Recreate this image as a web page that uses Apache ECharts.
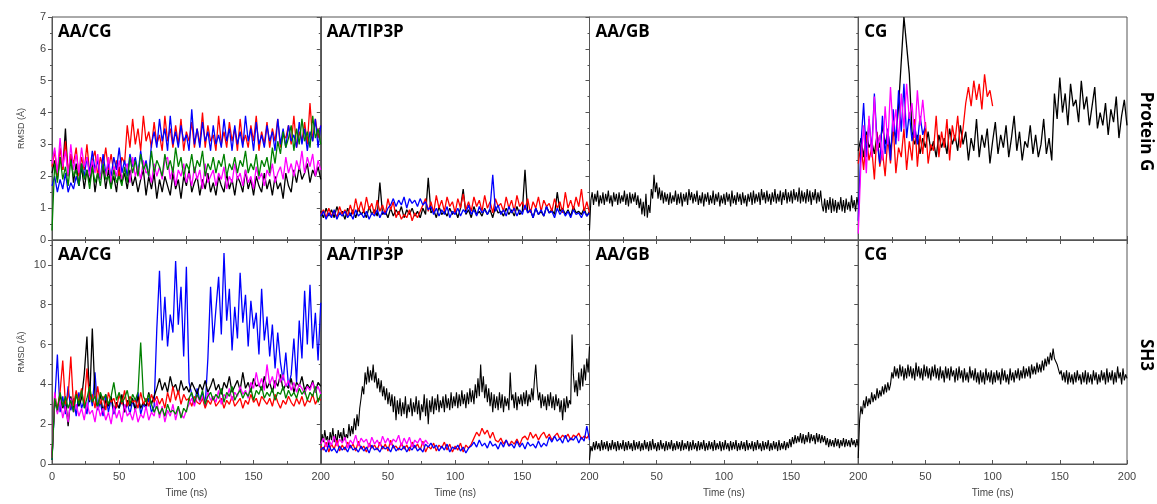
<!DOCTYPE html>
<html>
<head>
<meta charset="utf-8">
<script src="https://cdn.jsdelivr.net/npm/echarts@6/dist/echarts.min.js"></script>
<style>
  html, body { margin: 0; padding: 0; background: #fff; }
  #chart { width: 1157px; height: 504px; }
</style>
</head>
<body>
<div id="chart"></div>
<script>
// RMSD traces (Å). Most are sampled every 2 ns from t = 0, the single-trace runs every 1 ns.
const DT2 = 2;
const DT1 = 1;

// ---- Protein G ----
const pgAaCgBlack = [2.1,2.5,1.9,2.6,2.2,3.5,2.0,2.7,1.8,2.4,1.7,
  2.3,1.6,2.2,1.8,2.4,1.5,2.1,1.9,2.3,1.6, 2.2,1.7,2.0,1.5,2.3,1.8,2.1,1.6,2.2,1.7,
  2.0,1.5,1.9,2.2,1.4,2.0,1.6,2.1,1.3,1.9, 1.5,2.0,1.7,1.4,2.1,1.6,1.9,1.3,2.0,1.7,
  2.2,1.5,1.8,2.0,1.4,1.9,1.6,2.1,1.5,1.8, 1.4,2.0,1.7,1.5,2.1,1.6,1.9,1.4,2.0,1.8,
  1.5,2.2,1.6,1.9,1.4,2.0,1.7,1.5,2.1,1.6, 1.9,1.4,2.0,1.6,1.8,1.3,2.1,1.7,1.5,2.2,
  1.8,2.3,1.9,2.1,2.4,1.8,2.2,2.0,2.3,1.9];
const pgAaCgRed = [2.3,2.8,2.0,2.9,2.2,3.1,2.1,2.7,2.4,2.9,2.0,
  2.6,2.2,3.0,2.1,2.5,2.8,2.0,2.6,2.3,2.9, 2.2,2.7,2.1,2.5,2.0,2.6,2.4,3.6,2.9,3.8,
  3.0,3.5,2.8,3.9,3.1,3.4,2.9,3.7,3.0,3.3, 2.8,3.9,3.1,3.5,2.9,3.6,3.0,3.8,2.8,3.4,
  3.1,3.7,2.9,3.5,3.0,4.0,2.9,3.6,3.1,3.3, 2.8,3.9,3.0,3.4,2.9,3.7,3.1,3.5,2.8,3.8,
  3.0,3.3,2.9,3.6,3.1,3.9,2.8,3.4,3.0,3.7, 2.9,3.5,3.1,3.8,2.9,3.3,3.2,3.6,3.0,3.9,
  2.9,3.4,3.1,3.7,3.0,4.3,3.1,3.8,3.2,3.6];
const pgAaCgBlue = [1.7,2.0,1.5,1.9,1.6,2.1,1.5,1.8,1.6,2.0,1.7,
  2.4,2.0,2.6,2.1,2.8,2.2,2.5,1.9,2.7,2.1, 2.4,2.0,2.6,2.2,2.9,2.1,2.5,2.0,2.7,2.3,
  2.6,2.1,2.8,2.2,2.5,2.0,3.0,3.4,2.9,3.8, 3.1,3.5,2.8,3.9,3.0,3.4,2.9,3.6,3.1,3.3,
  2.8,4.1,3.0,3.5,2.9,3.7,3.1,3.4,2.8,3.6, 3.0,3.3,2.9,3.8,3.1,3.5,2.8,3.6,3.0,3.4,
  2.9,3.9,3.1,3.5,2.8,3.7,3.0,3.3,2.9,3.6, 3.1,3.4,2.8,3.8,3.0,3.5,2.9,3.6,3.1,3.3,
  2.9,3.7,3.0,3.5,2.8,3.4,3.1,3.8,2.9,3.6];
const pgAaCgMagenta = [2.4,2.9,2.1,3.2,2.3,2.8,2.0,3.0,2.2,2.7,2.1,
  2.9,2.3,2.6,2.0,2.5,2.1,2.7,1.9,2.4,2.0, 2.6,1.8,2.3,2.0,2.5,1.9,2.2,2.4,1.8,2.6,
  2.0,2.3,1.9,2.5,2.1,2.2,1.8,2.4,2.0,2.3, 1.9,2.5,2.6,1.9,2.3,1.7,2.2,2.0,2.4,1.8,
  2.1,1.7,2.3,1.9,2.2,1.6,2.4,1.8,2.0,2.2, 1.7,2.1,1.9,2.3,1.6,2.0,1.8,2.4,1.9,2.1,
  1.7,2.2,1.8,2.0,1.6,2.3,1.9,2.1,1.7,2.2, 2.0,2.4,1.8,2.1,2.3,1.9,2.6,2.1,2.4,2.0,
  2.5,2.2,2.8,2.1,2.6,2.3,2.7,2.0,2.5,2.2];
const pgAaCgGreen = [0.3,2.4,1.8,2.6,1.9,2.3,1.7,2.5,2.0,2.2,1.7,
  2.4,1.9,2.2,1.6,2.3,1.8,2.1,1.7,2.4,1.9, 2.0,1.6,2.2,1.8,2.0,1.7,2.3,1.8,2.6,2.1,
  2.5,2.0,2.7,2.2,2.4,2.0,2.8,2.1,2.5,2.3, 2.0,2.7,2.2,2.5,2.1,2.9,2.3,2.6,2.0,2.4,
  2.2,2.7,2.1,2.5,2.3,2.8,2.0,2.4,2.2,2.6, 2.1,2.5,2.3,2.7,2.0,2.4,2.2,2.6,2.1,2.5,
  2.3,2.8,2.1,2.4,2.2,2.7,2.0,2.5,2.3,2.6, 2.1,2.9,2.4,3.1,2.7,3.4,2.9,3.2,3.6,2.8,
  3.5,3.0,3.8,3.1,3.4,2.9,3.9,3.2,3.5,3.0];

const pgTipBlack = [0.9,0.7,1.0,0.75,0.95,0.7,1.05,0.8,0.9,0.65,1.0,
  0.75,0.95,0.7,1.0,0.8,0.9,0.7,1.05,0.8,0.95, 0.75,1.8,0.8,0.9,0.7,1.0,0.75,0.95,0.8,1.05,
  0.7,0.95,0.8,1.0,0.75,0.9,0.7,1.0,0.8,1.95, 0.85,0.95,0.7,1.05,0.8,0.9,0.75,1.0,0.8,0.95,
  0.7,1.0,1.6,0.8,0.95,0.7,1.05,0.8,0.9,0.75, 1.0,0.8,0.95,0.7,1.05,0.85,0.9,0.75,1.0,0.8,
  0.95,0.75,1.05,0.8,0.9,2.2,0.85,0.95,0.7,1.0, 0.8,0.9,0.75,1.05,0.85,0.95,0.8,1.5,0.9,1.0,
  0.8,0.95,0.75,1.05,0.85,0.9,0.8,1.0,0.75,0.9];
const pgTipRed = [0.8,0.95,0.7,1.0,0.75,0.9,0.7,1.05,0.8,0.95,0.75,
  1.1,0.8,1.3,0.9,1.2,0.85,1.35,0.95,1.15,0.8, 1.25,0.9,1.1,0.8,1.3,0.95,1.2,0.7,0.9,0.65,
  0.8,0.7,0.95,0.6,0.85,0.7,0.9,1.1,1.3,0.9, 1.2,0.85,1.4,1.0,1.25,0.9,1.35,1.05,1.2,0.85,
  1.3,1.0,1.45,0.95,1.2,0.9,1.35,1.05,1.25,0.9, 1.4,1.0,1.2,0.85,1.3,1.05,1.15,0.9,1.35,1.0,
  1.25,0.9,1.4,1.05,1.2,0.95,1.3,0.85,1.2,1.0, 1.35,0.9,1.25,1.05,1.15,0.9,1.3,1.0,1.2,0.85,
  1.5,1.0,1.25,0.95,1.35,1.05,1.6,0.9,1.2,0.85];
const pgTipBlue = [0.75,0.9,0.65,0.85,0.7,0.95,0.65,0.85,0.75,0.9,0.7,
  0.85,0.65,0.95,0.75,0.85,0.7,0.9,0.65,0.85,0.75, 0.95,0.7,0.9,0.8,1.0,1.1,1.3,1.05,1.25,1.1,
  1.35,1.0,1.3,1.15,1.25,1.05,1.3,1.1,1.2,0.95, 1.05,0.8,1.0,0.75,0.95,0.8,1.05,0.7,0.9,0.8,
  1.0,0.75,0.95,0.85,1.1,0.8,0.95,0.75,1.05,0.85, 0.95,0.8,1.0,2.05,0.9,1.1,0.8,0.95,0.75,1.05,
  0.85,1.0,0.75,0.95,0.8,1.1,0.85,0.95,0.7,1.0, 0.8,0.95,0.75,1.05,0.85,0.9,0.7,1.0,0.8,0.95,
  0.75,0.9,0.7,0.95,0.8,0.85,0.7,0.9,0.75,0.85];

// 1 ns sampling
const pgGbBlack = [0.3,
  1.25,1.5,1.1,1.45,1.2,1.55,1.05,1.4,1.15,1.5,
  1.1,1.45,1.2,1.55,1.15,1.4,1.05,1.5,1.2,1.45,
  1.1,1.5,1.15,1.4,1.2,1.55,1.1,1.45,1.05,1.5,
  1.15,1.45,1.2,1.5,1.1,1.4,1.0,1.3,0.8,1.2,
  0.75,1.45,0.7,1.1,0.85,1.6,1.3,2.05,1.5,1.8,
  1.3,1.65,1.25,1.55,1.15,1.5,1.2,1.45,1.1,1.5,
  1.15,1.4,1.2,1.55,1.1,1.45,1.15,1.5,1.05,1.45,
  1.2,1.5,1.1,1.6,1.25,1.5,1.15,1.45,1.2,1.55,
  1.1,1.4,1.15,1.5,1.05,1.45,1.2,1.5,1.1,1.4,
  1.15,1.55,1.1,1.45,1.2,1.5,1.05,1.4,1.15,1.45,
  1.1,1.5,1.2,1.45,1.05,1.55,1.15,1.4,1.1,1.5,
  1.2,1.45,1.1,1.5,1.15,1.4,1.05,1.45,1.2,1.5,
  1.1,1.55,1.15,1.45,1.2,1.5,1.1,1.6,1.25,1.5,
  1.15,1.55,1.2,1.45,1.1,1.5,1.2,1.6,1.15,1.45,
  1.2,1.55,1.1,1.5,1.25,1.6,1.15,1.5,1.2,1.55,
  1.15,1.6,1.25,1.5,1.2,1.65,1.15,1.55,1.2,1.5,
  1.15,1.6,1.2,1.55,1.1,1.5,1.25,1.6,1.15,1.5,
  1.2,1.55,1.1,0.9,1.3,0.85,1.25,0.95,1.35,0.85,
  1.3,0.9,1.25,0.85,1.2,0.95,1.35,0.9,1.25,0.85,
  1.3,0.95,1.2,0.9,1.4,1.0,1.25,0.9,1.35,1.1];

const pgCgBlack = [2.8,3.2,2.6,3.4,2.9,3.1,2.7,3.3,2.9,3.6,3.0,
  3.4,2.8,3.5,3.2,4.2,5.6,7.0,6.1,5.2,3.4, 3.0,3.3,2.7,3.2,2.9,3.4,2.8,3.1,2.6,3.3,
  2.9,3.2,2.7,3.5,3.0,3.3,2.8,3.6,3.0,3.4, 2.5,3.2,2.8,3.8,2.6,3.3,2.9,3.5,2.4,3.1,
  3.7,2.7,3.3,2.9,3.6,2.6,3.2,3.9,2.8,3.4, 2.5,3.1,2.9,3.6,2.7,3.3,2.6,3.0,3.8,2.7,
  3.2,2.5,4.6,3.8,5.1,4.0,4.6,3.6,4.9,4.2, 4.4,3.7,5.0,4.1,4.5,3.6,4.2,4.8,3.5,4.0,
  3.6,4.3,3.3,4.1,3.7,4.5,3.2,3.9,4.4,3.6];
const pgCgRed = [2.4,3.0,2.2,3.3,2.5,2.9,1.9,3.4,2.3,2.8,2.0,
  3.2,2.4,3.6,2.1,2.9,2.6,3.5,2.2,3.1,2.5, 3.8,2.3,3.3,2.7,3.7,2.4,3.0,2.8,3.9,2.6,
  3.4,2.9,3.8,2.5,3.6,3.1,3.9,2.9,3.5,4.3, 4.8,4.2,5.0,4.4,4.9,4.1,5.2,4.5,4.7,4.2];
const pgCgBlue = [0.6,3.0,4.3,2.6,3.8,2.8,4.6,3.1,2.4,3.9,2.7,3.5,2.5,4.1,3.0,4.7,3.4,4.9,3.2,4.0,3.1,3.6,3.0,3.9,3.3,3.6];
const pgCgMagenta = [0.2,2.4,3.6,2.1,3.9,2.6,4.5,2.8,3.3,2.5,4.2,3.0,4.8,3.4,4.1,3.1,4.6,3.5,4.9,3.8,4.3,3.2,4.7,3.6,4.4,3.5];

// ---- SH3 ----
const shAaCgBlue = [0.2,3.1,5.5,2.6,3.4,2.5,3.9,2.7,3.3,2.4,3.6,
  2.8,3.2,2.5,3.8,2.9,4.6,2.7,3.1,2.4,3.5, 2.6,3.3,2.5,3.0,2.8,3.4,2.6,3.1,2.5,3.2,
  2.7,3.6,2.5,3.0,2.8,3.3,2.6,2.9,6.8,9.7, 6.2,8.4,5.9,7.5,6.6,10.2,7.0,8.9,5.4,9.9,
  4.1,3.5,3.0,3.8,3.2,3.6,2.9,5.3,8.9,6.1, 7.8,9.4,6.5,10.6,7.2,8.8,5.7,7.9,6.3,9.6,
  7.1,8.5,5.9,8.2,6.8,7.6,5.5,8.8,6.2,7.4, 5.4,7.0,4.8,6.6,5.1,4.2,5.6,3.9,4.5,6.3,
  4.1,7.2,5.3,8.7,6.0,9.0,5.8,7.6,5.2,8.1];
const shAaCgBlack = [0.3,3.2,2.6,3.5,2.8,3.3,1.9,3.4,2.7,3.6,2.9,
  3.3,4.5,6.4,3.1,6.8,3.4,2.8,3.5,2.6,3.2, 2.9,3.4,2.7,3.1,2.8,3.5,2.6,3.2,2.9,3.3,
  2.7,3.4,2.8,3.1,2.9,3.6,3.0,3.4,3.8,4.3, 3.7,4.1,3.6,4.4,3.8,4.0,3.5,4.2,3.7,3.9,
  3.6,4.1,3.8,3.5,4.0,3.7,4.2,3.6,3.9,4.3, 3.7,4.0,3.5,4.1,3.8,4.4,3.6,3.9,4.2,3.7,
  4.6,3.8,4.1,3.6,4.3,3.9,4.0,3.7,4.4,3.8, 4.1,3.6,4.2,3.9,4.5,3.7,4.0,3.8,4.3,3.6,
  4.1,3.9,4.4,3.7,4.0,3.8,4.2,3.6,4.1,3.9];
const shAaCgRed = [0.3,3.5,2.8,3.6,5.2,3.0,3.4,5.4,2.9,3.7,3.1,
  3.8,2.9,4.8,3.2,3.5,2.8,3.9,3.0,3.4,2.7, 3.6,3.1,3.3,2.8,3.5,3.0,3.7,2.9,3.4,3.1,
  3.2,2.8,3.6,3.0,3.3,2.9,3.5,3.1,3.4,3.0, 3.3,2.8,3.6,3.1,3.9,3.2,3.7,3.0,3.5,3.2,
  3.3,2.9,3.4,3.1,3.0,3.3,2.8,3.2,3.0,3.4, 2.9,3.1,3.3,2.8,3.2,3.0,3.4,2.9,3.1,3.3,
  2.8,3.2,3.0,3.5,3.1,3.3,2.9,3.4,3.2,3.0, 3.3,2.9,3.5,3.1,2.8,3.2,3.0,3.4,3.1,2.9,
  3.3,3.0,3.4,2.9,3.2,3.1,3.5,3.0,3.3,3.2];
const shAaCgMagenta = [0.3,3.6,2.5,3.2,2.3,2.9,2.1,3.3,2.6,3.0,2.4,
  2.8,2.2,3.1,2.5,2.7,2.1,3.0,2.4,2.8,2.2, 2.6,2.0,2.9,2.3,2.7,2.1,3.0,2.4,2.6,2.2,
  2.8,2.1,2.5,2.3,2.9,2.2,2.6,2.4,3.2,2.3, 2.9,2.1,2.7,2.4,3.0,2.2,2.8,2.5,2.3,2.7,
  3.0,3.3,2.9,3.5,3.1,3.4,3.0,3.6,3.2,3.4, 3.1,3.7,3.0,3.5,3.3,3.8,3.2,3.6,3.4,3.9,
  3.5,3.7,3.3,4.1,3.8,4.6,3.9,4.3,3.7,5.0, 4.0,4.4,3.8,4.8,4.1,4.5,3.9,4.2,3.7,4.1,
  3.6,4.0,3.8,3.5,3.9,3.7,4.1,3.6,3.9,3.5];
const shAaCgGreen = [0.2,3.3,2.7,3.6,2.9,3.4,2.8,3.2,2.6,3.5,3.0,
  3.7,2.8,3.3,3.9,3.1,3.4,2.9,3.6,3.2,3.5, 3.0,3.4,4.1,3.2,3.6,3.1,3.3,3.7,3.0,3.5,
  3.2,3.6,6.1,3.4,3.1,3.5,3.0,2.6,2.9,2.5, 2.8,2.4,3.0,2.6,2.7,2.5,2.9,2.3,2.8,2.6,
  3.3,3.6,3.1,3.5,3.2,3.7,3.0,3.4,3.6,3.2, 3.5,3.3,3.8,3.1,3.6,3.4,3.9,3.2,3.5,3.7,
  3.3,3.6,3.4,3.8,3.2,3.7,3.5,3.9,3.3,3.6, 3.4,3.8,3.2,3.6,3.5,3.9,3.3,3.7,3.4,3.6,
  3.3,3.8,3.5,3.7,3.2,3.6,3.4,3.9,3.1,3.5];

// 1 ns sampling
const shTipBlack = [1.0,
  1.5,1.1,1.7,1.2,1.4,0.9,1.6,1.2,1.8,1.1,
  1.5,1.0,1.7,1.3,1.6,1.1,1.8,1.2,1.5,1.3,
  2.0,1.4,1.9,1.5,2.3,1.7,2.5,1.9,2.8,3.3,
  3.9,3.5,4.6,4.0,4.9,4.1,4.7,4.2,5.0,4.1,
  4.6,3.8,4.3,3.6,4.2,3.4,3.9,3.2,3.8,3.0,
  3.6,2.9,3.5,2.6,3.4,2.2,3.2,2.5,3.3,2.4,
  3.1,2.5,3.4,2.3,3.0,2.6,3.3,2.4,3.1,2.6,
  3.4,2.5,3.2,2.2,3.0,2.6,3.5,2.4,3.3,2.0,
  3.2,2.6,3.4,2.5,3.3,2.7,3.5,2.6,3.2,2.8,
  3.4,2.6,3.5,2.8,3.3,2.7,3.6,2.8,3.4,2.9,
  3.6,2.8,3.5,2.9,3.7,3.0,3.5,2.8,3.6,3.0,
  3.8,3.1,3.7,3.0,4.0,3.3,4.3,3.4,5.0,3.6,
  4.4,3.3,4.0,3.1,3.8,2.9,3.6,2.6,3.5,2.8,
  3.4,2.7,3.6,2.8,3.5,2.6,3.4,2.9,3.3,2.7,
  4.6,3.2,3.5,2.8,3.6,2.7,3.4,3.0,3.5,2.9,
  3.6,3.0,3.7,2.9,3.5,3.1,3.8,3.2,4.2,5.0,
  3.9,3.2,3.6,2.8,3.5,2.9,3.4,2.7,3.5,2.9,
  3.6,2.8,3.4,2.7,3.5,2.9,3.3,2.6,3.2,2.2,
  3.3,2.6,3.4,2.8,3.2,3.0,6.5,4.5,3.6,4.2,
  3.4,4.6,3.7,4.8,3.9,5.0,4.2,5.3,4.6,5.9];
const shTipRed = [0.9,0.7,1.1,0.6,1.0,0.75,1.2,0.65,0.95,0.7,1.1,
  0.8,1.0,0.65,1.15,0.75,0.9,0.6,1.05,0.8,0.95, 0.7,1.1,0.75,1.0,0.65,1.2,0.8,0.9,0.7,1.05,
  0.75,0.95,0.65,1.1,0.8,1.0,0.7,1.15,0.6,0.9, 0.75,1.05,0.65,0.95,0.8,1.1,0.7,1.0,0.6,0.9,
  0.7,1.05,0.6,0.95,0.8,1.0,1.3,1.6,1.4,1.8, 1.5,1.7,1.3,1.6,1.2,1.1,1.3,1.0,1.2,0.9,
  1.15,1.0,1.25,0.95,1.3,1.4,1.2,1.6,1.3,1.5, 1.2,1.45,1.6,1.3,1.5,1.2,1.4,1.55,1.25,1.45,
  1.3,1.5,1.2,1.45,1.35,1.55,1.25,1.4,1.3,1.5];
const shTipBlue = [0.7,0.85,0.6,0.95,0.65,0.8,0.55,0.9,0.7,0.85,0.6,
  0.95,0.7,0.8,0.6,0.9,0.65,0.85,0.55,0.95,0.7, 0.8,0.6,0.9,0.75,0.85,0.6,0.95,0.65,0.8,0.7,
  0.9,0.6,0.85,0.7,0.95,0.65,0.8,0.6,1.0,0.85, 1.05,0.8,0.95,0.65,0.9,0.7,1.0,0.6,0.85,0.75,
  0.95,0.65,0.85,0.55,0.8,0.9,1.1,0.85,1.2,0.9, 1.05,0.8,1.15,0.9,1.0,0.75,1.1,0.85,1.2,0.9,
  1.0,0.8,1.15,0.85,1.05,0.75,1.1,0.9,1.0,0.8, 1.15,0.85,1.05,0.9,1.35,1.1,1.4,1.15,1.3,1.05,
  1.45,1.1,1.3,1.2,1.4,1.05,1.35,1.15,1.9,1.2];
const shTipMagenta = [1.0,1.3,0.85,1.2,0.95,1.4,0.9,1.25,1.05,1.35,0.8,1.2,1.0,1.45,0.9,1.3,1.1,1.25,0.85,1.35,
  1.0,1.2,0.9,1.4,1.05,1.3,0.95,1.25,1.1,1.45,0.9,1.3,1.0,1.35,0.85,1.2,1.05,1.3,0.95,1.2,1.0];

// 1 ns sampling
const shGbBlack = [0.2,
  0.9,0.65,1.1,0.7,1.15,0.75,1.05,0.65,1.2,0.7,
  1.1,0.75,1.15,0.65,1.05,0.7,1.2,0.75,1.1,0.65,
  1.15,0.7,1.05,0.75,1.2,0.65,1.1,0.7,1.15,0.75,
  1.05,0.65,1.2,0.7,1.1,0.75,1.15,0.65,1.05,0.7,
  1.2,0.75,1.1,0.65,1.15,0.7,1.25,0.75,1.05,0.65,
  1.1,0.7,1.2,0.75,1.05,0.65,1.15,0.7,1.1,0.75,
  1.2,0.65,1.05,0.7,1.15,0.75,1.1,0.65,1.2,0.7,
  1.05,0.75,1.15,0.65,1.1,0.7,1.2,0.75,1.05,0.65,
  1.15,0.7,1.1,0.75,1.2,0.65,1.05,0.7,1.15,0.75,
  1.1,0.65,1.2,0.7,1.05,0.75,1.15,0.65,1.1,0.7,
  1.2,0.75,1.05,0.65,1.15,0.7,1.1,0.75,1.2,0.65,
  1.05,0.7,1.15,0.75,1.1,0.65,1.2,0.7,1.05,0.75,
  1.15,0.65,1.1,0.7,1.2,0.75,1.05,0.65,1.15,0.7,
  1.1,0.75,1.2,0.65,1.05,0.7,1.15,0.75,1.1,0.65,
  1.2,0.7,1.05,0.75,1.15,0.7,1.1,0.8,1.25,0.85,
  1.35,1.0,1.45,1.05,1.4,1.1,1.55,1.05,1.5,1.0,
  1.45,1.1,1.6,1.05,1.5,1.15,1.45,1.0,1.55,1.1,
  1.5,1.05,1.45,1.1,1.4,0.95,1.3,0.85,1.25,0.9,
  1.2,0.85,1.3,0.9,1.25,0.8,1.2,0.9,1.3,0.85,
  1.25,0.9,1.2,0.85,1.3,0.95,1.2,0.85,1.25,0.9];

// 1 ns sampling
const shCgBlack = [0.3,
  2.2,2.9,2.5,3.2,2.8,3.4,2.9,3.3,3.0,3.6,
  3.1,3.5,3.2,3.8,3.3,3.7,3.4,3.9,3.5,4.0,
  3.6,4.1,3.7,4.0,4.6,4.3,4.9,4.4,4.8,4.3,
  5.0,4.4,4.9,4.2,4.8,4.3,5.0,4.4,4.9,4.3,
  4.8,4.2,5.1,4.4,4.9,4.3,4.8,4.2,5.0,4.4,
  4.9,4.3,4.8,4.2,4.9,4.4,5.0,4.3,4.8,4.2,
  4.9,4.3,4.7,4.1,4.9,4.3,4.8,4.2,4.9,4.4,
  4.7,4.1,4.8,4.2,4.9,4.3,4.7,4.1,4.8,4.2,
  4.6,4.1,4.9,4.3,4.7,4.2,4.8,4.1,4.6,4.0,
  4.7,4.1,4.6,4.0,4.8,4.2,4.6,4.1,4.7,4.0,
  4.6,4.1,4.7,4.2,4.6,4.0,4.8,4.2,4.7,4.1,
  4.5,4.0,4.8,4.2,4.6,4.1,4.7,4.3,4.8,4.2,
  4.7,4.3,4.9,4.3,4.8,4.4,4.9,4.3,5.0,4.5,
  4.9,4.5,5.1,4.6,5.0,4.6,5.2,4.7,5.3,4.9,
  5.4,5.0,5.6,5.2,5.8,5.3,5.4,5.0,4.9,4.5,
  4.7,4.2,4.6,4.1,4.7,4.0,4.6,4.1,4.5,4.0,
  4.6,4.1,4.7,4.2,4.5,4.0,4.6,4.1,4.7,4.0,
  4.6,4.1,4.5,4.0,4.7,4.2,4.6,4.0,4.5,4.1,
  4.7,4.2,4.6,4.0,4.8,4.1,4.6,4.2,4.7,4.0,
  4.6,4.1,4.9,4.3,4.6,4.0,4.8,4.2,4.5,4.3];

// Labels
const panelTitles = ['AA/CG', 'AA/TIP3P', 'AA/GB', 'CG'];
const rowLabels = ['Protein G', 'SH3'];
const xTicks = { min: 0, max: 200, interval: 50 };
const yTopTicks = { min: 0, max: 7, interval: 1 };
const yBottomTicks = { min: 0, max: 11.25, interval: 2 };

const COLORS = { black: '#000000', red: '#ff0000', blue: '#0000ff', magenta: '#ff00ff', green: '#008000' };

// [colour, values, sampling interval in ns], drawn in this order
const panels = [
  [['black', pgAaCgBlack, DT2], ['red', pgAaCgRed, DT2], ['blue', pgAaCgBlue, DT2], ['magenta', pgAaCgMagenta, DT2], ['green', pgAaCgGreen, DT2]],
  [['black', pgTipBlack, DT2], ['red', pgTipRed, DT2], ['blue', pgTipBlue, DT2]],
  [['black', pgGbBlack, DT1]],
  [['black', pgCgBlack, DT2], ['red', pgCgRed, DT2], ['blue', pgCgBlue, DT2], ['magenta', pgCgMagenta, DT2]],
  [['blue', shAaCgBlue, DT2], ['black', shAaCgBlack, DT2], ['red', shAaCgRed, DT2], ['magenta', shAaCgMagenta, DT2], ['green', shAaCgGreen, DT2]],
  [['black', shTipBlack, DT1], ['red', shTipRed, DT2], ['blue', shTipBlue, DT2], ['magenta', shTipMagenta, DT2]],
  [['black', shGbBlack, DT1]],
  [['black', shCgBlack, DT1]]
];

// Layout of the 2 x 4 panel grid
const LEFT = 52, PANEL_W = 268.75;
const ROW_TOP = [17, 240], ROW_H = [223, 224];
const AXIS_COLOR = '#555';
const LABEL_FONT = 'Liberation Sans, Arial, sans-serif';
const TITLE_FONT = 'Open Sans, sans-serif';

function toPoints(values, step) {
  return values.map((v, i) => [i * step, v]);
}

const grids = [], xAxes = [], yAxes = [], series = [], graphics = [];

for (let p = 0; p < 8; p++) {
  const row = Math.floor(p / 4), col = p % 4;
  const left = LEFT + col * PANEL_W;
  grids.push({
    left: left, top: ROW_TOP[row], width: PANEL_W, height: ROW_H[row],
    show: true, borderColor: AXIS_COLOR, borderWidth: 1, backgroundColor: 'transparent'
  });
  const isBottom = row === 1;
  xAxes.push({
    gridIndex: p, type: 'value', min: xTicks.min, max: xTicks.max, interval: xTicks.interval,
    axisLine: { show: true, lineStyle: { color: AXIS_COLOR, width: 1 } },
    axisTick: { show: true, inside: true, length: 4, lineStyle: { color: AXIS_COLOR } },
    minorTick: { show: true, splitNumber: 2, length: 3, lineStyle: { color: AXIS_COLOR } },
    splitLine: { show: false },
    axisLabel: {
      show: isBottom, fontFamily: LABEL_FONT, fontSize: 11, color: '#444', margin: 7,
      showMinLabel: col === 0, showMaxLabel: true
    },
    name: isBottom ? 'Time (ns)' : '', nameLocation: 'middle', nameGap: 24,
    nameTextStyle: { fontFamily: LABEL_FONT, fontSize: 10, color: '#444' }
  });
  const yt = isBottom ? yBottomTicks : yTopTicks;
  yAxes.push({
    gridIndex: p, type: 'value', min: yt.min, max: yt.max, interval: yt.interval,
    axisLine: { show: true, lineStyle: { color: AXIS_COLOR, width: 1 } },
    axisTick: { show: true, inside: false, length: 4, lineStyle: { color: AXIS_COLOR } },
    minorTick: { show: true, splitNumber: 2, length: 2, lineStyle: { color: AXIS_COLOR } },
    splitLine: { show: false },
    axisLabel: {
      show: col === 0, fontFamily: LABEL_FONT, fontSize: 11, color: '#444', margin: 6,
      showMaxLabel: !isBottom
    },
    name: col === 0 ? 'RMSD (Å)' : '', nameLocation: 'middle', nameGap: 26,
    nameTextStyle: { fontFamily: LABEL_FONT, fontSize: 9, color: '#444' }
  });
  panels[p].forEach(([color, values, step]) => {
    series.push({
      type: 'line', xAxisIndex: p, yAxisIndex: p, data: toPoints(values, step),
      symbol: 'none', showSymbol: false, silent: true, animation: false,
      lineStyle: { color: COLORS[color], width: step === DT1 ? 1.1 : 1.3 }, z: 2
    });
  });
  graphics.push({
    type: 'text', left: left + 6, top: ROW_TOP[row] + 7, z: 10,
    style: { text: panelTitles[col], font: 'bold 17px ' + TITLE_FONT, fill: '#000' }
  });
}

// Inward ticks along the shared edge at the top of the SH3 row
for (let col = 0; col < 4; col++) {
  const p = 4 + col;
  xAxes.push({
    gridIndex: p, type: 'value', position: 'top', min: xTicks.min, max: xTicks.max, interval: xTicks.interval,
    axisLine: { show: false },
    axisTick: { show: true, inside: true, length: 4, lineStyle: { color: AXIS_COLOR } },
    minorTick: { show: true, splitNumber: 2, length: 3, lineStyle: { color: AXIS_COLOR } },
    splitLine: { show: false }, axisLabel: { show: false }
  });
}

// Row labels on the right side, reading top to bottom
rowLabels.forEach((label, row) => {
  graphics.push({
    type: 'text', x: 1146, y: ROW_TOP[row] + ROW_H[row] / 2 + 3, rotation: -Math.PI / 2, z: 10,
    style: { text: label, font: 'bold 17px ' + TITLE_FONT, fill: '#000', align: 'center', verticalAlign: 'middle' }
  });
});

const chart = echarts.init(document.getElementById('chart'), null, { renderer: 'canvas' });
chart.setOption({
  animation: false,
  backgroundColor: '#ffffff',
  grid: grids,
  xAxis: xAxes,
  yAxis: yAxes,
  series: series,
  graphic: graphics
});
</script>
</body>
</html>
